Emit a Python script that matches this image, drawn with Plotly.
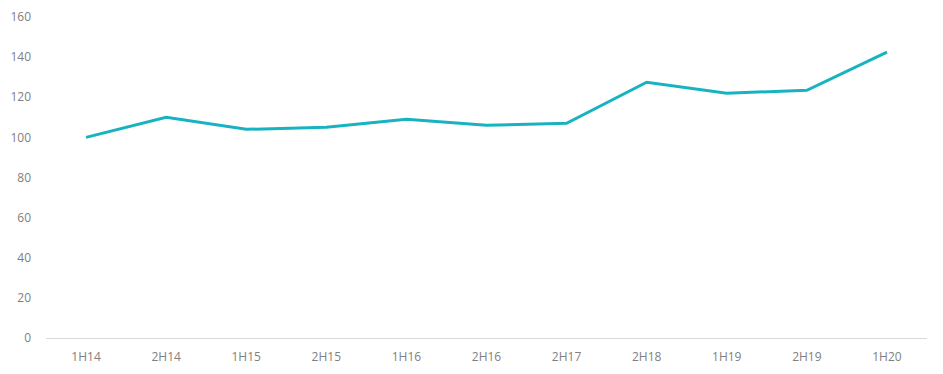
import plotly.graph_objects as go

categories = ["1H14", "2H14", "1H15", "2H15", "1H16", "2H16", "2H17", "2H18", "1H19", "2H19", "1H20"]
values = [100, 110, 104, 105, 109, 106, 107, 127.5, 122, 123.5, 142.5]
y_ticks = [0, 20, 40, 60, 80, 100, 120, 140, 160]

fig = go.Figure()
fig.add_trace(go.Scatter(
    x=categories, y=values, mode="lines",
    line=dict(color="#17B3C1", width=3),
    hoverinfo="x+y",
))

fig.update_layout(
    width=943, height=374,
    margin=dict(l=38, r=24, t=9, b=44, autoexpand=False),
    paper_bgcolor="white", plot_bgcolor="white",
    showlegend=False,
    font=dict(family="Open Sans", size=12, color="#808080"),
)
fig.update_xaxes(
    type="category", range=[-0.5, len(categories) - 0.5],
    showgrid=False, zeroline=False, automargin=False,
    showline=True, linecolor="#D9D9D9", linewidth=1,
    ticks="", ticklabelstandoff=8,
    tickfont=dict(size=12, color="#808080"),
)
fig.update_yaxes(
    range=[0, 160], tickvals=y_ticks, showgrid=False, zeroline=False,
    automargin=False,
    showline=False, ticks="", ticklabelstandoff=14,
    tickfont=dict(size=12, color="#808080"),
)

fig.write_html("out.html")
